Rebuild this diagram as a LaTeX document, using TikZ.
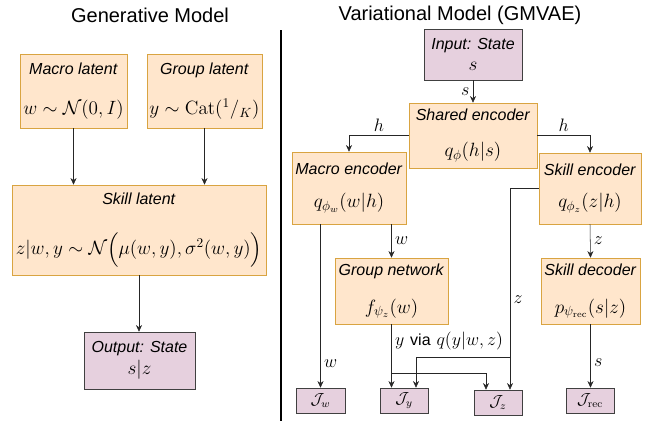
\RequirePackage{fix-cm}
\documentclass[tikz,border=0pt]{standalone}
\usepackage{amsmath}
\usepackage{fontspec}
\setsansfont{Liberation Sans}
\usetikzlibrary{arrows.meta}
\definecolor{latentfill}{HTML}{FFE6CC}
\definecolor{latentdraw}{HTML}{D9A441}
\definecolor{statefill}{HTML}{E6D0DE}
\definecolor{statedraw}{HTML}{404040}
\newcommand{\bigmath}[1]{{\fontsize{14.4}{17}\selectfont$#1$}}

\begin{document}
\begin{tikzpicture}[x=0.75pt,y=-0.75pt]
            %
            % `latent' is used for the orange latent and network boxes.
            % `state' is used for the purple state and loss boxes.
            % `link' is used for every arrow.
            % `tag' is used for the arrow labels.
            \tikzstyle{latent} = [draw=latentdraw,fill=latentfill,inner sep=0pt,align=center,font=\sffamily\fontsize{12}{14.4}\selectfont]
            \tikzstyle{state} = [draw=statedraw,fill=statefill,inner sep=0pt,align=center,font=\sffamily\fontsize{12}{14.4}\selectfont]
            \tikzstyle{link} = [draw=black!85,-{Stealth[length=5pt,width=4.5pt]}]
            \tikzstyle{tag} = [font=\fontsize{13.5}{16}\selectfont,inner sep=2.5pt]
            \tikzstyle{title} = [font=\sffamily\fontsize{15}{18}\selectfont]
            \useasboundingbox (0,0) rectangle (650,426);
            %
            % Titles and divider
            \node[title] (gentitle) at (150,15) {Generative Model};
            \node[title] (vartitle) at (460,15) {Variational Model (GMVAE)};
            \coordinate (divtop) at (281,30);
            \coordinate (divbot) at (281,421);
            \draw[line width=2.2pt] (divtop) -- (divbot);
            %
            % Generative model
            \node[latent,minimum width=80.25pt,minimum height=55.5pt] (macrolat) at (73.5,91) {\textit{Macro latent}\\[16pt]\bigmath{w\sim\mathcal{N}(0,I)}};
            \node[latent,minimum width=86.25pt,minimum height=55.5pt] (grouplat) at (204.5,91) {\textit{Group latent}\\[16pt]\bigmath{y\sim\mathrm{Cat}({}^{1}/_{K})}};
            \node[latent,minimum width=190.5pt,minimum height=67.5pt] (skilllat) at (139,230) {\textit{Skill latent}\\[20pt]\bigmath{z|w,y\sim\mathcal{N}\Big(\mu(w,y),\sigma^2(w,y)\Big)}};
            \node[state,minimum width=83.25pt,minimum height=42.75pt] (output) at (139.5,360.5) {\textit{Output: State}\\[2pt]\bigmath{s|z}};
            \draw[link] (macrolat.south) -- (macrolat.south |- skilllat.north);
            \draw[link] (grouplat.south) -- (grouplat.south |- skilllat.north);
            \draw[link] (skilllat.south) -- (skilllat.south |- output.north);
            %
            % Variational model, encoders
            \node[state,minimum width=73.5pt,minimum height=38.25pt] (input) at (473,54.5) {\textit{Input: State}\\[1pt]\bigmath{s}};
            \node[latent,minimum width=96pt,minimum height=48.75pt] (shared) at (473,135.5) {\textit{Shared encoder}\\[13pt]\bigmath{q_\phi(h|s)}};
            \node[latent,minimum width=85.5pt,minimum height=54pt] (macroenc) at (349,188) {\textit{Macro encoder}\\[10pt]\bigmath{q_{\phi_w}(w|h)}};
            \node[latent,minimum width=76.5pt,minimum height=53.25pt] (skillenc) at (590,188.5) {\textit{Skill encoder}\\[10pt]\bigmath{q_{\phi_z}(z|h)}};
            \node[latent,minimum width=84.75pt,minimum height=49.5pt] (groupnet) at (391.5,291) {\textit{Group network}\\[14pt]\bigmath{f_{\psi_z}(w)}};
            \node[latent,minimum width=74.25pt,minimum height=49.5pt] (skilldec) at (590.5,291) {\textit{Skill decoder}\\[14pt]\bigmath{p_{\psi_{\mathrm{rec}}}(s|z)}};
            \draw[link] (input.south) -- node[tag,left]{$s$} (shared.north);
            \draw[link] (shared.west) -| node[tag,pos=0.25,above]{$h$} (macroenc.north);
            \draw[link] (shared.east) -| node[tag,pos=0.25,above]{$h$} (skillenc.north);
            \draw[link] (groupnet.north |- macroenc.south) -- node[tag,right]{$w$} (groupnet.north);
            \draw[link] (skillenc.south) -- node[tag,right]{$z$} (skilldec.north);
            %
            % Losses
            \node[state,minimum width=36.75pt,minimum height=18.75pt] (jw) at (320.5,400.5) {$\mathcal{J}_w$};
            \node[state,minimum width=36pt,minimum height=18.75pt] (jy) at (404,400.5) {$\mathcal{J}_y$};
            \node[state,minimum width=36pt,minimum height=18.75pt] (jz) at (498,402.5) {$\mathcal{J}_z$};
            \node[state,minimum width=36pt,minimum height=18.75pt] (jrec) at (590,400.5) {$\mathcal{J}_{\mathrm{rec}}$};
            \coordinate (ysplit) at (391.5,373);
            \coordinate (zsplit) at (510,357);
            \draw[link] (jw.north |- macroenc.south) -- node[tag,right,pos=0.85]{$w$} (jw.north);
            \draw[link] (groupnet.south) -- node[tag,right,pos=0.27]{$y$ {\fontsize{12}{14}\selectfont\textsf{via}} $q(y|w,z)$} (groupnet.south |- jy.north);
            \draw[link] (ysplit) -| ([xshift=-9pt]jz.north);
            \draw[link] (skillenc.west) -| node[tag,right,pos=0.775]{$z$} ([xshift=9pt]jz.north);
            \draw[link] (zsplit) -| ([xshift=9pt]jy.north);
            \draw[link] (skilldec.south) -- node[tag,right,pos=0.6]{$s$} (skilldec.south |- jrec.north);
        \end{tikzpicture}
\end{document}
